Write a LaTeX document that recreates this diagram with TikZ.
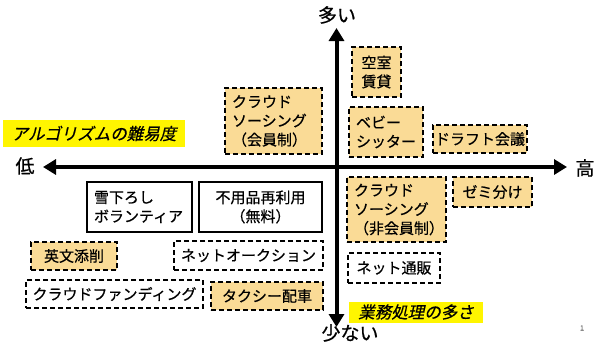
\documentclass[tikz,border=0pt]{standalone}
\usepackage{fontspec}
\setmainfont[FakeBold=0.6]{Noto Sans CJK JP}
\newfontfamily\jpit[FakeSlant=0.22,FakeBold=0.6]{Noto Sans CJK JP}
\usetikzlibrary{arrows.meta}
\definecolor{boxfill}{RGB}{250,219,150}
\definecolor{hilite}{RGB}{255,245,0}
\tikzset{
  base/.style={inner sep=0pt, font=\fontsize{15}{19}\selectfont, align=left},
  dbox/.style={base, draw=black, line width=1.8pt, dash pattern=on 5pt off 3pt},
  obox/.style={dbox, fill=boxfill},
  sbox/.style={base, draw=black, line width=1.5pt, fill=white},
  lbox/.style={inner xsep=7pt, inner ysep=0pt},
  hlabel/.style={fill=hilite, inner sep=0pt, font=\fontsize{16.5}{18}\selectfont\jpit},
  axislabel/.style={inner sep=0pt, font=\fontsize{19}{22}\selectfont},
  axisline/.style={line width=4pt, {Triangle[length=13pt,width=15pt]}-{Triangle[length=13pt,width=15pt]}}
}
\begin{document}
\begin{tikzpicture}[x=1pt,y=-1pt]
\useasboundingbox (0,0) rectangle (596,351);
% axes
\coordinate (top) at (336.5,28);
\coordinate (bottom) at (336.5,327);
\coordinate (left) at (43,167);
\coordinate (right) at (567,167);
\draw[axisline] (left) -- (right);
\draw[axisline] (top) -- (bottom);
\node[axislabel] (low) at (25,166) {低};
\node[axislabel] (high) at (585,168) {高};
\node[axislabel] (many) at (337,15) {多い};
\node[axislabel] (few) at (350,333) {少ない};
\node[inner sep=0pt, font=\fontsize{7}{8}\selectfont, text=black!60] (page) at (582,328) {1};
% highlighted labels
\node[hlabel, minimum width=182pt, minimum height=27pt] (algo) at (94,133.5) {アルゴリズムの難易度};
\node[hlabel, minimum width=134pt, minimum height=21pt] (gyomu) at (416,312) {業務処理の多さ};
% boxes
\node[obox, lbox, text width=83pt, minimum height=66pt] (cs1) at (273.5,121) {クラウド\\ソーシング\\（会員制）};
\node[obox, minimum width=49pt, minimum height=50pt] (kushitsu) at (376.5,72) {空室\\賃貸};
\node[obox, lbox, text width=60pt, minimum height=50pt] (baby) at (386,132) {ベビー\\シッター};
\node[obox, minimum width=94pt, minimum height=28pt] (draft) at (480,139) {ドラフト会議};
\node[sbox, lbox, text width=91pt, minimum height=50pt] (yuki) at (139.5,207) {雪下ろし\\ボランティア};
\node[sbox, minimum width=123pt, minimum height=50pt, align=center] (fuyou) at (260.5,207) {不用品再利用\\（無料）};
\node[obox, minimum width=86pt, minimum height=28pt] (eibun) at (74,256) {英文添削};
\node[dbox, minimum width=149pt, minimum height=29pt] (auction) at (248.5,255.5) {ネットオークション};
\node[dbox, minimum width=177pt, minimum height=28pt] (funding) at (114.5,294) {クラウドファンディング};
\node[obox, minimum width=112pt, minimum height=28pt] (taxi) at (267,296) {タクシー配車};
\node[obox, lbox, text width=85pt, minimum height=65pt] (cs2) at (396.5,209.5) {クラウド\\ソーシング\\（非会員制）};
\node[obox, minimum width=79pt, minimum height=30pt] (zemi) at (492.5,192) {ゼミ分け};
\node[dbox, minimum width=92pt, minimum height=30pt] (tsuhan) at (394,268) {ネット通販};
\end{tikzpicture}
\end{document}
